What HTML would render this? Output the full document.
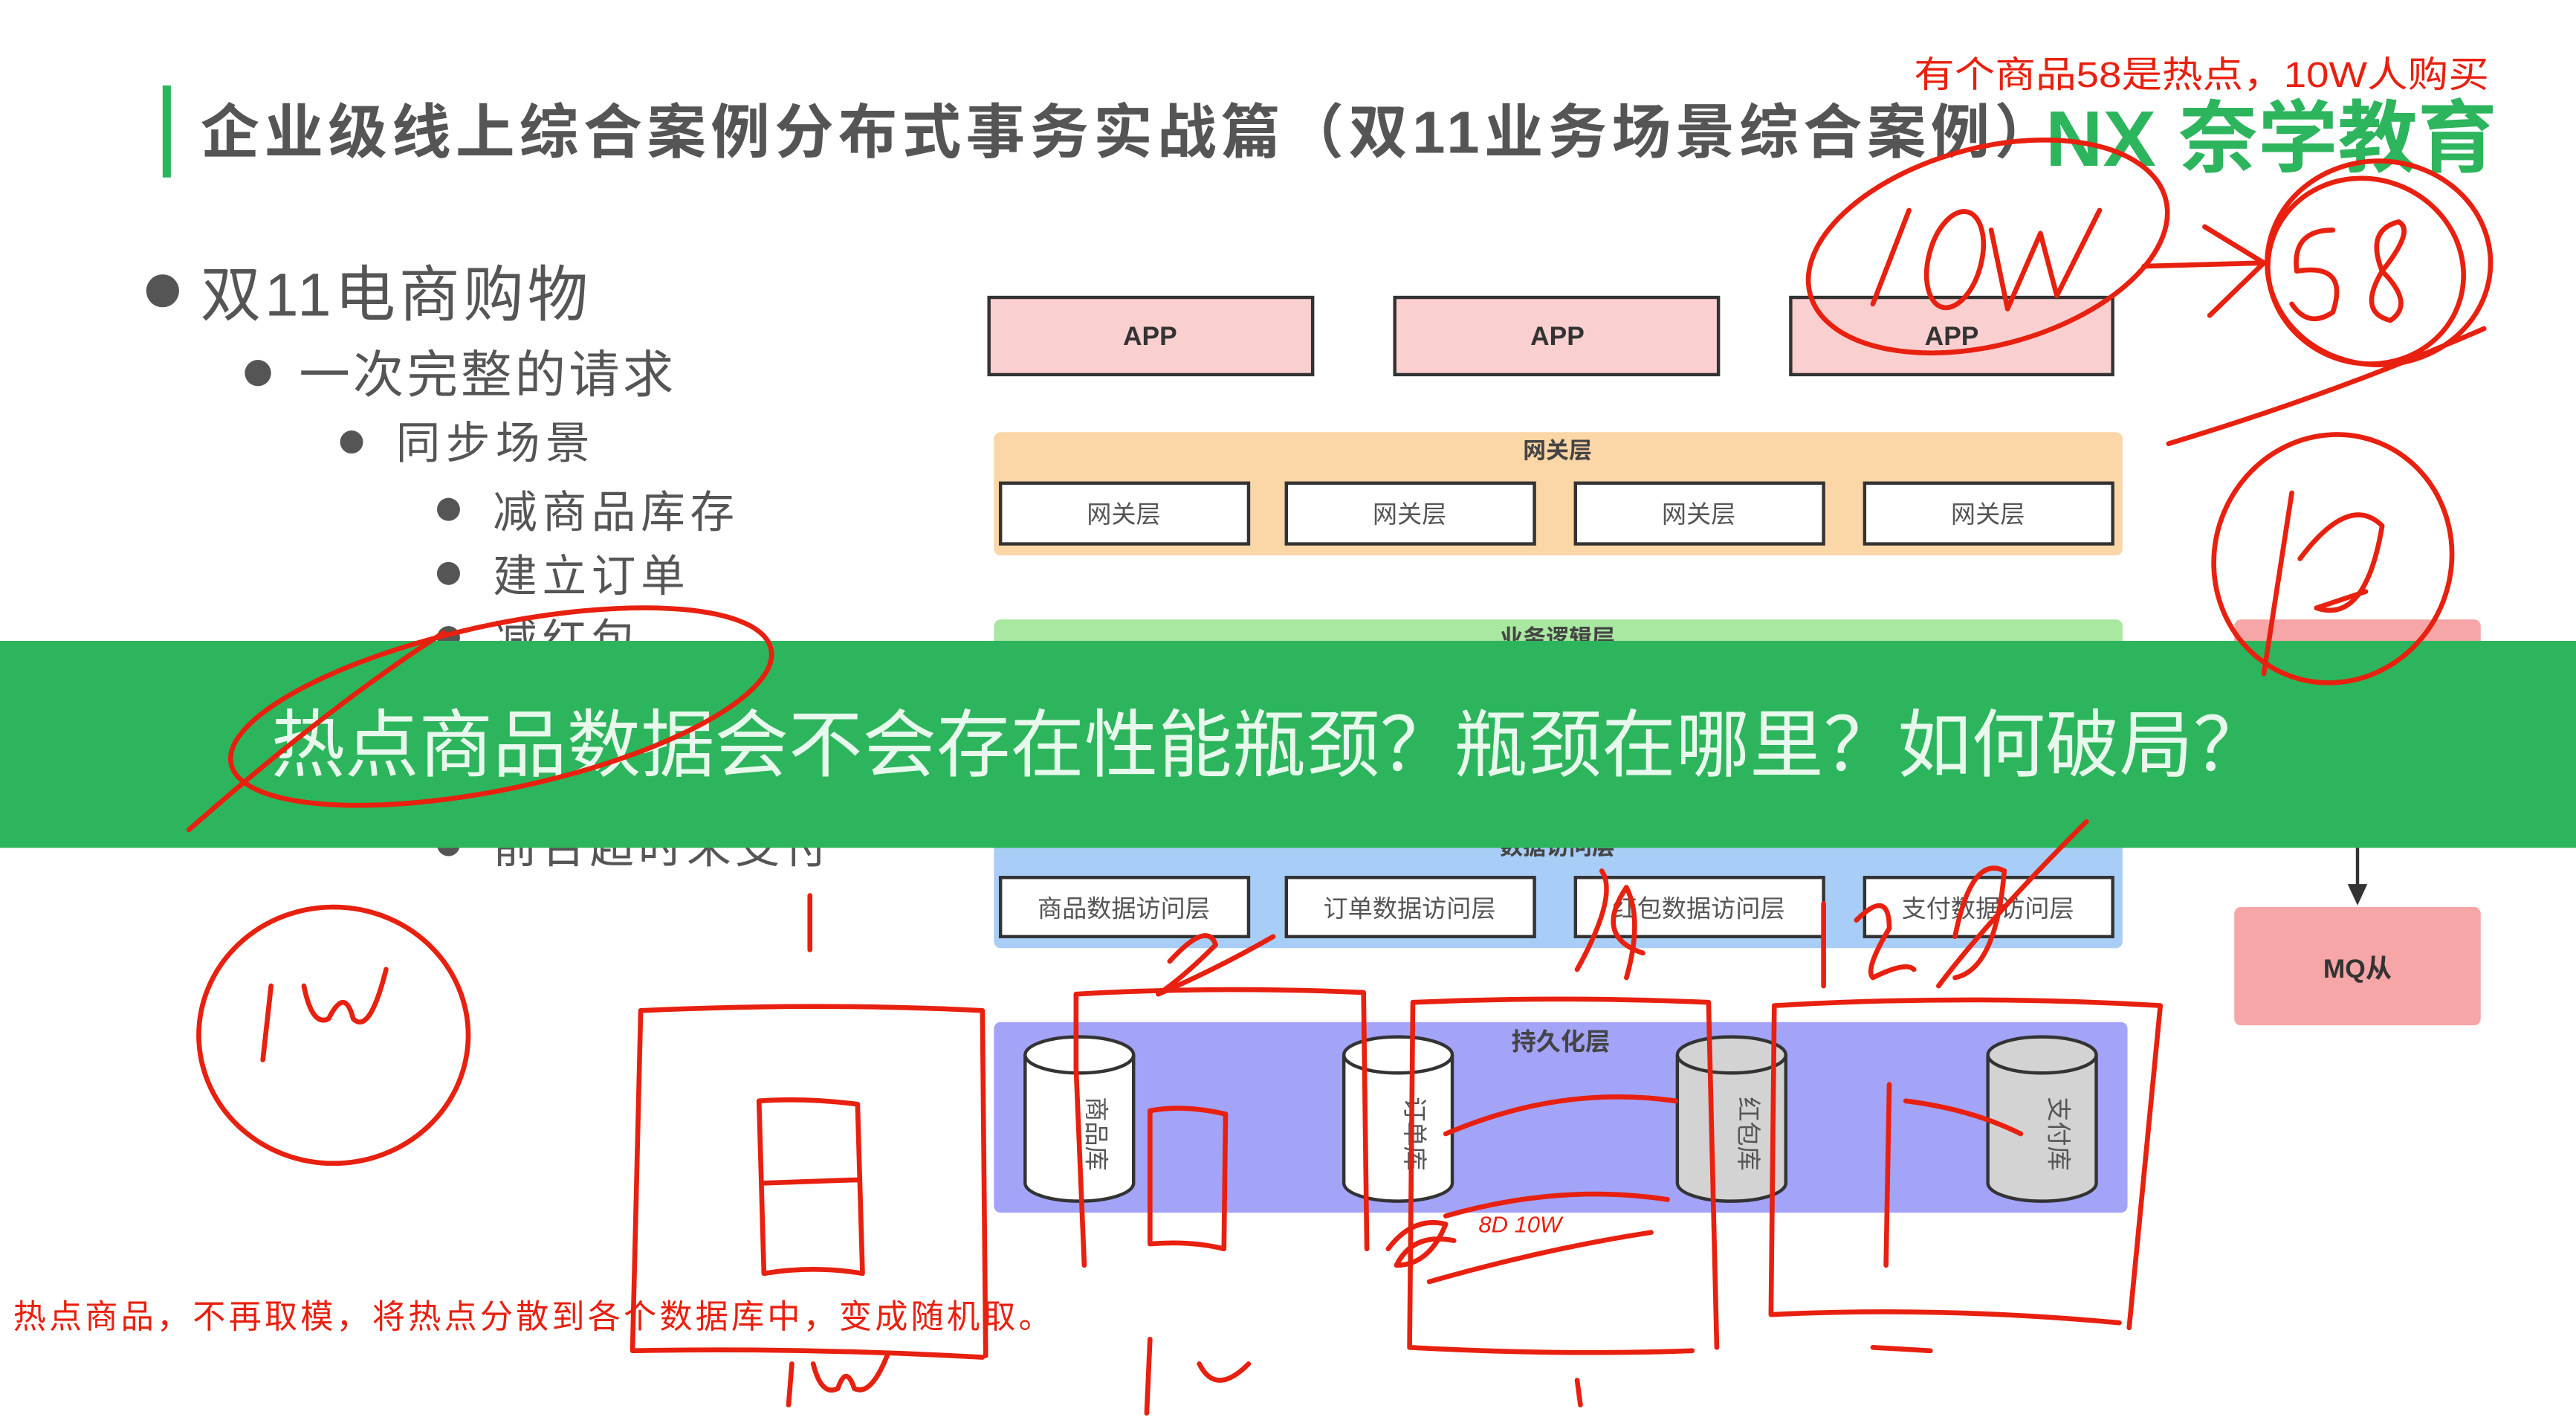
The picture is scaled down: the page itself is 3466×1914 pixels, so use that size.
<!DOCTYPE html>
<html><head><meta charset="utf-8">
<style>
html,body{margin:0;padding:0;background:#fff;}
svg{display:block;}
text{font-family:"Liberation Sans","Noto Sans CJK SC",sans-serif;}
</style></head>
<body>
<svg width="3466" height="1914" viewBox="0 0 1568 866" preserveAspectRatio="none" xmlns="http://www.w3.org/2000/svg">
<rect width="1568" height="866" fill="#fff"/>
<!-- title -->
<rect x="99" y="52" width="5" height="56" fill="#2db55d"/>
<text x="122" y="93" font-size="36" fill="#555" font-weight="bold" textLength="1128" lengthAdjust="spacing">企业级线上综合案例分布式事务实战篇（双11业务场景综合案例）</text>
<text x="1245" y="101" font-size="48" fill="#2db55d" font-weight="bold" textLength="275" lengthAdjust="spacingAndGlyphs">NX 奈学教育</text>
<text x="1165" y="53" font-size="22" fill="#e8200f" textLength="350" lengthAdjust="spacingAndGlyphs">有个商品58是热点，10W人购买</text>

<!-- bullets -->
<g fill="#555">
<circle cx="99" cy="177" r="10"/><text x="122" y="192" font-size="37" textLength="236">双11电商购物</text>
<circle cx="157" cy="227" r="8"/><text x="182" y="239" font-size="31" textLength="228">一次完整的请求</text>
<circle cx="214" cy="269" r="7"/><text x="241" y="279" font-size="27" textLength="118">同步场景</text>
<circle cx="273" cy="310" r="7"/><text x="300" y="321" font-size="27" textLength="147">减商品库存</text>
<circle cx="273" cy="349" r="7"/><text x="300" y="360" font-size="27" textLength="117">建立订单</text>
<circle cx="273" cy="388" r="7"/><text x="300" y="399" font-size="27" textLength="87">减红包</text>
<circle cx="273" cy="514" r="7"/><text x="300" y="525" font-size="27" textLength="204">前台超时未支付</text>
</g>

<!-- APP boxes -->
<g stroke="#333" stroke-width="2" fill="#f9cfd0">
<rect x="602" y="181" width="197" height="47"/>
<rect x="849" y="181" width="197" height="47"/>
<rect x="1090" y="181" width="196" height="47"/>
</g>
<g font-size="16" font-weight="bold" fill="#333" text-anchor="middle">
<text x="700" y="210">APP</text><text x="948" y="210">APP</text><text x="1188" y="210">APP</text>
</g>

<!-- gateway -->
<rect x="605" y="263" width="687" height="75" rx="4" fill="#fbd6a6"/>
<text x="948" y="279" font-size="14" font-weight="bold" fill="#444" text-anchor="middle">网关层</text>
<g stroke="#333" stroke-width="2" fill="#fff">
<rect x="609" y="294" width="151" height="37"/><rect x="783" y="294" width="151" height="37"/>
<rect x="959" y="294" width="151" height="37"/><rect x="1135" y="294" width="151" height="37"/>
</g>
<g font-size="15" fill="#555" text-anchor="middle">
<text x="684" y="318">网关层</text><text x="858" y="318">网关层</text><text x="1034" y="318">网关层</text><text x="1210" y="318">网关层</text>
</g>

<!-- business logic (mostly hidden) -->
<rect x="605" y="377" width="687" height="40" rx="4" fill="#a8e8a0"/>
<text x="948" y="393" font-size="14" font-weight="bold" fill="#444" text-anchor="middle">业务逻辑层</text>
<rect x="1360" y="377" width="150" height="40" rx="4" fill="#f6a6a6"/>

<!-- data access -->
<rect x="605" y="505" width="687" height="72" rx="4" fill="#a8cdf7"/>
<text x="948" y="520" font-size="14" font-weight="bold" fill="#444" text-anchor="middle">数据访问层</text>
<g stroke="#333" stroke-width="2" fill="#fff">
<rect x="609" y="534" width="151" height="36"/><rect x="783" y="534" width="151" height="36"/>
<rect x="959" y="534" width="151" height="36"/><rect x="1135" y="534" width="151" height="36"/>
</g>
<g font-size="15" fill="#555" text-anchor="middle">
<text x="684" y="558">商品数据访问层</text><text x="858" y="558">订单数据访问层</text><text x="1034" y="558">红包数据访问层</text><text x="1210" y="558">支付数据访问层</text>
</g>

<!-- green banner -->
<rect x="0" y="390" width="1568" height="126" fill="#2db55d"/>
<text x="165" y="469" font-size="45" fill="#e8f8ec" textLength="1215" lengthAdjust="spacing">热点商品数据会不会存在性能瓶颈？瓶颈在哪里？如何破局？</text>

<!-- MQ -->
<line x1="1435" y1="516" x2="1435" y2="540" stroke="#333" stroke-width="2"/>
<polygon points="1429,538 1441,538 1435,551" fill="#333"/>
<rect x="1360" y="552" width="150" height="72" rx="4" fill="#f6a6a6"/>
<text x="1435" y="595" font-size="16" font-weight="bold" fill="#333" text-anchor="middle">MQ从</text>

<!-- persistence -->
<rect x="605" y="622" width="690" height="116" rx="4" fill="#a3a3f8"/>
<text x="950" y="639" font-size="15" font-weight="bold" fill="#444" text-anchor="middle">持久化层</text>
<g stroke="#333" stroke-width="2">
<path d="M624,642 v78 a33,11 0 0 0 66,0 v-78" fill="#fff"/><ellipse cx="657" cy="642" rx="33" ry="11" fill="#fff"/>
<path d="M818,642 v78 a33,11 0 0 0 66,0 v-78" fill="#fff"/><ellipse cx="851" cy="642" rx="33" ry="11" fill="#fff"/>
<path d="M1021,642 v78 a33,11 0 0 0 66,0 v-78" fill="#d3d3d3"/><ellipse cx="1054" cy="642" rx="33" ry="11" fill="#d3d3d3"/>
<path d="M1210,642 v78 a33,11 0 0 0 66,0 v-78" fill="#d3d3d3"/><ellipse cx="1243" cy="642" rx="33" ry="11" fill="#d3d3d3"/>
</g>
<g font-size="15" fill="#555" text-anchor="middle">
<text transform="translate(662,690) rotate(90)">商品库</text>
<text transform="translate(856,690) rotate(90)">订单库</text>
<text transform="translate(1059,690) rotate(90)">红包库</text>
<text transform="translate(1248,690) rotate(90)">支付库</text>
</g>

<text x="8" y="808" font-size="20" fill="#e8200f" textLength="632">热点商品，不再取模，将热点分散到各个数据库中，变成随机取。</text>

<!-- red handwriting -->
<g fill="none" stroke="#e8200f" stroke-width="3" stroke-linecap="round" stroke-linejoin="round">
<ellipse cx="1210" cy="150" rx="112" ry="60" transform="rotate(-15 1210 150)"/>
<path d="M1140,185 L1162,128"/>
<ellipse cx="1190" cy="158" rx="16" ry="30" transform="rotate(15 1190 158)"/>
<path d="M1212,140 L1222,188 L1242,142 L1252,180 L1278,128"/>
<path d="M1305,162 L1378,160 M1342,138 L1378,160 L1345,192"/>
<ellipse cx="1448" cy="160" rx="68" ry="62"/>
<ellipse cx="1440" cy="165" rx="60" ry="56" transform="rotate(20 1440 165)"/>
<path d="M1420,140 Q1395,140 1398,165 Q1430,160 1420,190 Q1405,200 1395,185"/>
<path d="M1460,135 Q1440,140 1450,165 Q1470,185 1455,195 Q1435,190 1450,165 Q1470,140 1460,135"/>
<path d="M1320,270 Q1420,240 1512,200"/>
<ellipse cx="1420" cy="340" rx="72" ry="76" transform="rotate(20 1420 340)"/>
<path d="M1395,300 L1378,410 M1400,340 Q1430,300 1450,320 Q1440,380 1410,370 L1440,360"/>
<ellipse cx="305" cy="430" rx="168" ry="50" transform="rotate(-12 305 430)"/>
<path d="M115,505 Q200,430 270,385"/>
<ellipse cx="203" cy="630" rx="82" ry="78"/>
<path d="M165,600 L160,645 M185,600 Q190,625 200,620 Q210,600 215,620 Q225,630 235,590"/>
<path d="M493,545 L493,578"/>
<path d="M390,615 Q500,610 598,615 L600,825 M390,615 L385,822 Q490,820 598,826"/>
<path d="M462,670 L465,775 Q495,770 525,775 L522,672 Q490,668 462,670 M465,720 L522,718"/>
<path d="M655,605 Q740,600 830,604 L832,760 M655,605 L655,650 L660,770 M700,676 L700,757 Q725,755 745,760 L746,678 Q720,672 700,676"/>
<path d="M860,610 Q950,606 1040,610 L1045,820 M860,610 L858,820 Q950,825 1030,822 M880,690 Q950,660 1020,670 M880,740 Q950,720 1015,730 M870,780 Q940,760 1005,750"/>
<path d="M1080,612 Q1200,605 1315,612 L1296,808 M1080,612 L1078,800 Q1180,795 1290,805 M1150,660 L1148,770 M1160,670 Q1200,675 1230,690"/>
<path d="M845,760 Q860,740 880,745 Q870,770 850,770 Q860,750 885,755"/>
<path d="M712,585 Q735,560 740,575 Q720,595 705,605 Q740,590 775,570"/>
<path d="M960,590 Q985,545 975,530 M990,595 Q1000,560 990,540 Q970,570 1000,580"/>
<path d="M1110,550 L1110,600 M1130,560 Q1150,540 1150,565 Q1135,590 1140,595 Q1160,585 1165,590 M1180,600 Q1210,560 1270,500 M1190,570 Q1200,520 1220,530 Q1215,590 1190,595"/>
<path d="M482,830 L480,855 M495,830 Q500,850 510,845 Q515,830 520,845 Q530,850 540,825"/>
<path d="M700,815 L698,860 M730,830 Q740,850 760,830"/>
<path d="M1140,820 L1175,822 M960,840 L962,855"/>
</g>
<g font-size="14" fill="#e8200f" font-style="italic">
<text x="900" y="750">8D 10W</text>
</g>
</svg>
</body></html>
